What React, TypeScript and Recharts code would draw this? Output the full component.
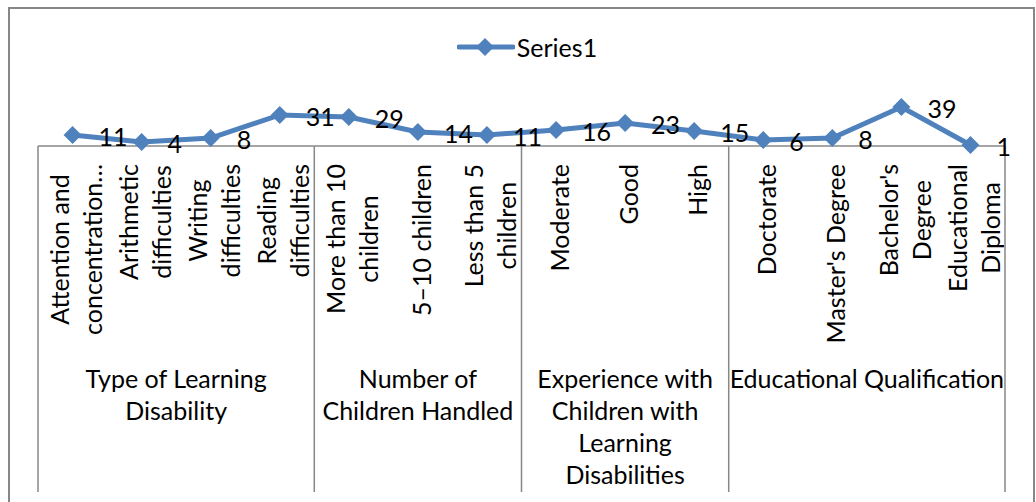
import React from "react";
import { LineChart, Line, XAxis, YAxis, Legend, LabelList } from "recharts";

// ---------- data ----------
const categoryLines: string[][] = [
  ["Attention and", "concentration…"],
  ["Arithmetic", "difficulties"],
  ["Writing", "difficulties"],
  ["Reading", "difficulties"],
  ["More than 10", "children"],
  ["5–10 children"],
  ["Less than 5", "children"],
  ["Moderate"],
  ["Good"],
  ["High"],
  ["Doctorate"],
  ["Master's Degree"],
  ["Bachelor's", "Degree"],
  ["Educational", "Diploma"],
];
const values: number[] = [11, 4, 8, 31, 29, 14, 11, 16, 23, 15, 6, 8, 39, 1];
const groupLines: string[][] = [
  ["Type of Learning", "Disability"],
  ["Number of", "Children Handled"],
  ["Experience with", "Children with", "Learning", "Disabilities"],
  ["Educational Qualification"],
];
const groupSizes: number[] = [4, 3, 3, 4];
const seriesName = "Series1";

// ---------- layout / style ----------
const W = 1036;
const H = 502;
const MARGIN = { top: 66, right: 31, left: 38, bottom: 0 };
const PLOT_H = 80;
const PLOT_BOTTOM = MARGIN.top + PLOT_H; // 146
const AXIS1_H = 200;
const AXIS2_H = H - PLOT_BOTTOM - AXIS1_H;
const SEP_BOTTOM = 492;
const FONT = "Lato, 'Open Sans', sans-serif";
const FS = 25;
const LINE_GAP = 33;
const BLUE = "#4F81BD";
const GRAY = "#878787";

const data = values.map((v, i) => ({ x: i + 0.5, value: v, name: categoryLines[i].join(" ") }));
const catTicks = values.map((_, i) => i + 0.5);
const boundaries: number[] = groupSizes.reduce((acc, s) => [...acc, acc[acc.length - 1] + s], [0]);
const centers: number[] = groupSizes.map((s, i) => boundaries[i] + s / 2);
const groupTicks = [...boundaries, ...centers].sort((a, b) => a - b);
const total = boundaries[boundaries.length - 1];

let ctx: CanvasRenderingContext2D | null = null;
function measure(t: string): number {
  if (!ctx) {
    const c = document.createElement("canvas");
    ctx = c.getContext("2d");
  }
  if (!ctx) return t.length * FS * 0.5;
  ctx.font = `${FS}px Lato`;
  return ctx.measureText(t).width;
}

function CategoryTick(props: any) {
  const { x, payload } = props;
  const idx = Math.round(payload.value - 0.5);
  const lines = categoryLines[idx] || [];
  const maxW = Math.max(...lines.map(measure));
  const n = lines.length;
  const top = PLOT_BOTTOM + 18;
  return (
    <text
      transform={`translate(${x + 3},${top}) rotate(-90)`}
      fontSize={FS}
      fontFamily={FONT}
      fill="#000"
      textAnchor="middle"
    >
      {lines.map((l, i) => (
        <tspan key={i} x={-maxW / 2} y={(i - (n - 1) / 2) * LINE_GAP} dominantBaseline="central">
          {l}
        </tspan>
      ))}
    </text>
  );
}

function GroupTick(props: any) {
  const { x, payload } = props;
  const v = payload.value;
  const bIdx = boundaries.indexOf(v);
  if (bIdx >= 0) {
    return <line x1={x} x2={x} y1={PLOT_BOTTOM} y2={SEP_BOTTOM} stroke={GRAY} strokeWidth={1.5} />;
  }
  const gIdx = centers.indexOf(v);
  const lines = groupLines[gIdx] || [];
  return (
    <text fontSize={FS} fontFamily={FONT} fill="#000" textAnchor="middle">
      {lines.map((l, i) => (
        <tspan key={i} x={x} y={378 + i * 32} dominantBaseline="central">
          {l}
        </tspan>
      ))}
    </text>
  );
}

function Diamond(props: any) {
  const { cx, cy, index } = props;
  if (cx == null || cy == null) return null;
  const r = 9;
  return (
    <polygon
      key={index}
      points={`${cx},${cy - r} ${cx + r},${cy} ${cx},${cy + r} ${cx - r},${cy}`}
      fill={BLUE}
      stroke="none"
    />
  );
}

function ValueLabel(props: any) {
  const x = props.x ?? props.viewBox?.x;
  const y = props.y ?? props.viewBox?.y;
  if (x == null || y == null) return null;
  return (
    <text x={x + 26} y={y + 1} fontSize={FS} fontFamily={FONT} fill="#000" textAnchor="start" dominantBaseline="central">
      {props.value}
    </text>
  );
}

function LegendContent() {
  return (
    <div
      style={{
        display: "flex",
        justifyContent: "center",
        alignItems: "center",
        paddingLeft: 18,
        fontFamily: FONT,
        fontSize: FS,
        color: "#000",
      }}
    >
      <svg width={58} height={20} style={{ marginRight: 2 }}>
        <line x1={2} x2={56} y1={10} y2={10} stroke={BLUE} strokeWidth={5} strokeLinecap="round" />
        <polygon points="28,1 37,10 28,19 19,10" fill={BLUE} />
      </svg>
      <span>{seriesName}</span>
    </div>
  );
}

export default function App() {
  return (
    <div style={{ position: "absolute", left: 0, top: 0, width: W, height: H, overflow: "hidden", background: "#fff" }}>
      <div
        style={{
          position: "absolute",
          left: 8,
          top: 7,
          width: 1027,
          height: 540,
          border: `2px solid ${GRAY}`,
          boxSizing: "border-box",
        }}
      />
      <div style={{ position: "absolute", left: 0, top: 0 }}>
        <LineChart width={W} height={H} data={data} margin={MARGIN}>
          <XAxis
            dataKey="x"
            type="number"
            domain={[0, total]}
            ticks={catTicks}
            interval={0}
            height={AXIS1_H}
            tickLine={false}
            axisLine={{ stroke: GRAY, strokeWidth: 1.5 }}
            tick={(p: any) => <CategoryTick {...p} />}
          />
          <XAxis
            xAxisId="grp"
            dataKey="x"
            type="number"
            domain={[0, total]}
            ticks={groupTicks}
            interval={0}
            height={AXIS2_H}
            tickLine={false}
            axisLine={false}
            tick={(p: any) => <GroupTick {...p} />}
          />
          <YAxis hide domain={[0, PLOT_H]} />
          <Legend
            verticalAlign="middle"
            align="center"
            layout="horizontal"
            wrapperStyle={{ top: 32, left: 0, width: W }}
            content={() => <LegendContent />}
          />
          <Line
            type="linear"
            dataKey="value"
            name={seriesName}
            stroke={BLUE}
            strokeWidth={5}
            dot={(p: any) => <Diamond {...p} />}
            activeDot={false}
            isAnimationActive={false}
          >
            <LabelList dataKey="value" content={(p: any) => <ValueLabel {...p} />} />
          </Line>
        </LineChart>
      </div>
    </div>
  );
}
